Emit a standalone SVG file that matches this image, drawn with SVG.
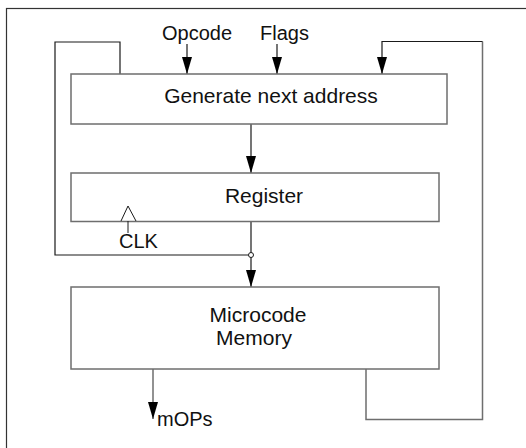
<svg xmlns="http://www.w3.org/2000/svg" width="526" height="448" viewBox="0 0 526 448">
  <style>
    .box { fill: #ffffff; stroke: #6e6e6e; stroke-width: 1.5; }
    .wire { fill: none; stroke: #1a1a1a; stroke-width: 1.2; }
    .wire-g { fill: none; stroke: #6e6e6e; stroke-width: 1.5; }
    text { font-family: "Liberation Sans", Arial, Helvetica, sans-serif; font-size: 20px; fill: #111; }
    .title { font-size: 21px; }
  </style>
  <defs>
    <marker id="arrow" markerUnits="userSpaceOnUse" markerWidth="17" markerHeight="10" refX="17" refY="5" orient="auto">
      <path d="M0,0 L17,5 L0,10 z" fill="#000"/>
    </marker>
  </defs>

  <rect x="0" y="0" width="526" height="448" fill="#ffffff"/>
  <!-- outer frame -->
  <rect x="6.5" y="8.5" width="540" height="460" fill="none" stroke="#333" stroke-width="1.2"/>

  <g id="connectors">
    <!-- inputs -->
    <line class="wire" x1="187" y1="44" x2="187" y2="74" marker-end="url(#arrow)"/>
    <line class="wire" x1="277" y1="44" x2="277" y2="74" marker-end="url(#arrow)"/>
    <!-- next address to register -->
    <line class="wire" x1="251" y1="124" x2="251" y2="173" marker-end="url(#arrow)"/>
    <!-- register to memory -->
    <line class="wire" x1="251" y1="221" x2="251" y2="287" marker-end="url(#arrow)"/>
    <!-- register feedback loop -->
    <polyline class="wire" points="120,74 120,42 55,42 55,255 248.5,255"/>
    <circle cx="251" cy="255" r="2.5" fill="#fff" stroke="#1a1a1a" stroke-width="1"/>
    <!-- memory feedback loop -->
    <polyline class="wire-g" points="366,369 366,419.5 482.5,419.5 482.5,41.5"/>
    <polyline class="wire" points="482.5,41.5 382,41.5 382,74" marker-end="url(#arrow)"/>
    <!-- micro-ops out -->
    <line class="wire-g" x1="153" y1="369" x2="153" y2="419" marker-end="url(#arrow)"/>
  </g>

  <g id="label-opcode"><text x="162" y="40">Opcode</text></g>
  <g id="label-flags"><text x="260" y="40">Flags</text></g>

  <g id="gen-next">
    <rect class="box" x="71" y="74" width="376" height="50"/>
    <text class="title" x="271" y="103" text-anchor="middle">Generate next address</text>
  </g>

  <g id="register">
    <rect class="box" x="71" y="173" width="368" height="48.5"/>
    <text class="title" x="264" y="203" text-anchor="middle">Register</text>
    <!-- clock input -->
    <path d="M121,221 L128,206 L136,221" fill="none" stroke="#1a1a1a" stroke-width="1"/>
    <line x1="128" y1="221" x2="128" y2="233" stroke="#1a1a1a" stroke-width="1"/>
    <text x="119" y="248">CLK</text>
  </g>

  <g id="memory">
    <rect class="box" x="71" y="287" width="368" height="82"/>
    <text class="title" x="258" y="322" text-anchor="middle">Microcode</text>
    <text class="title" x="254" y="345" text-anchor="middle">Memory</text>
  </g>

  <g id="label-mops"><text x="157" y="426">mOPs</text></g>
</svg>
